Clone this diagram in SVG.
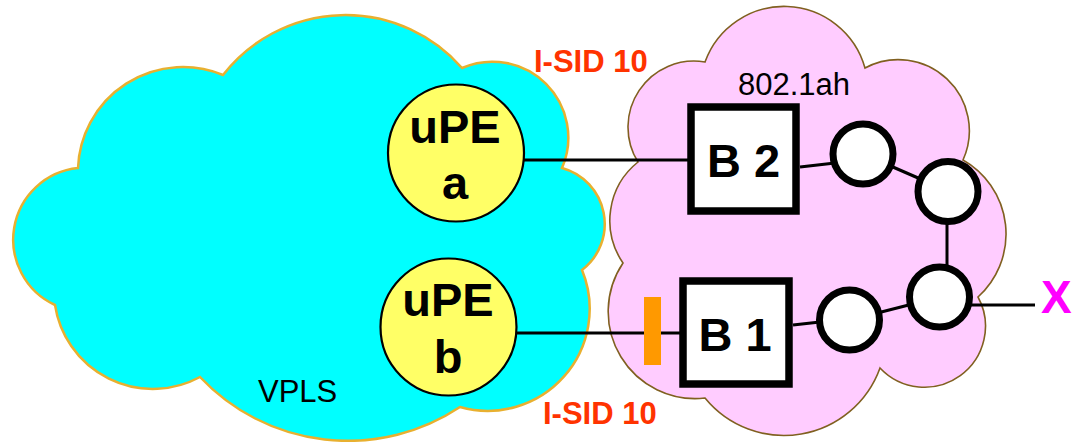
<svg xmlns="http://www.w3.org/2000/svg" width="1074" height="442" viewBox="0 0 1074 442">
<style>
.lbl{font-family:"Liberation Sans",Arial,sans-serif}
.big{font-size:47px;font-weight:bold;fill:#000;text-anchor:middle}
.isid{font-size:31px;font-weight:bold;fill:#FF3300}
.plain{font-size:31px;fill:#000}
.upe{fill:#FFFF66;stroke:#000;stroke-width:2.2}
.box{fill:#fff;stroke:#000;stroke-width:7.5}
.sw{fill:#fff;stroke:#000;stroke-width:7}
.link{stroke:#000;stroke-width:3;fill:none}
</style>
<rect width="1074" height="442" fill="#fff"/>
<g id="cloud-vpls">
<path d="M223,75 A155,155 0 0 1 462,68 A76,76 0 0 1 562,168 A58,58 0 0 1 582,270 A102,102 0 0 1 460,407 A203,203 0 0 1 200,377 A99,99 0 0 1 55,305 A72,72 0 0 1 78,168 A105,105 0 0 1 223,75 Z" fill="#00FFFF" stroke="#E8B030" stroke-width="2.5"/>
<text class="lbl plain" x="258" y="402">VPLS</text>
</g>
<g id="cloud-8021ah">
<path d="M705,62 A84,84 0 0 1 865,68 A71,71 0 0 1 963,160 A85,85 0 0 1 978,297 A61,61 0 0 1 880,368 A102,102 0 0 1 705,398 A87,87 0 0 1 623,263 A75,75 0 0 1 638,162 A66,66 0 0 1 705,62 Z" fill="#FFCCFF" stroke="#806020" stroke-width="1.6"/>
<text class="lbl plain" x="738" y="95">802.1ah</text>
</g>
<g id="connectors">
<line class="link" x1="524" y1="160" x2="691" y2="160"/>
<line class="link" x1="516" y1="333" x2="683" y2="333"/>
<line class="link" x1="800" y1="167" x2="835" y2="163"/>
<line class="link" x1="863" y1="154" x2="948" y2="191"/>
<line class="link" x1="947" y1="191" x2="947" y2="297"/>
<line class="link" x1="793" y1="325" x2="820" y2="322"/>
<line class="link" x1="850" y1="320" x2="940" y2="297"/>
<line class="link" x1="940" y1="305" x2="1035" y2="305"/>
</g>
<g id="isid-marker">
<rect x="644" y="297" width="17" height="68" fill="#FF9900"/>
</g>
<g id="node-upe-a">
<ellipse class="upe" cx="456" cy="153" rx="68" ry="68.5"/>
<text class="lbl big" x="455" y="143">uPE</text>
<text class="lbl big" x="455" y="199">a</text>
</g>
<g id="node-upe-b">
<ellipse class="upe" cx="448.5" cy="327" rx="68" ry="68.5"/>
<text class="lbl big" x="448" y="316">uPE</text>
<text class="lbl big" x="448" y="373">b</text>
</g>
<g id="node-b2">
<rect class="box" x="691" y="107" width="105" height="104"/>
<text class="lbl big" x="743.5" y="177">B 2</text>
</g>
<g id="node-b1">
<rect class="box" x="683" y="281" width="106" height="103"/>
<text class="lbl big" x="735" y="351">B 1</text>
</g>
<g id="node-s1"><circle class="sw" cx="863" cy="154" r="30"/></g>
<g id="node-s2"><circle class="sw" cx="948" cy="191.5" r="30"/></g>
<g id="node-s3"><circle class="sw" cx="939.5" cy="297" r="30"/></g>
<g id="node-s4"><circle class="sw" cx="849.5" cy="320" r="30"/></g>
<g id="labels">
<text class="lbl isid" x="534" y="72">I-SID 10</text>
<text class="lbl isid" x="543" y="424">I-SID 10</text>
<text class="lbl" x="1041" y="313" font-size="46" font-weight="bold" fill="#FF00FF">X</text>
</g>
</svg>
